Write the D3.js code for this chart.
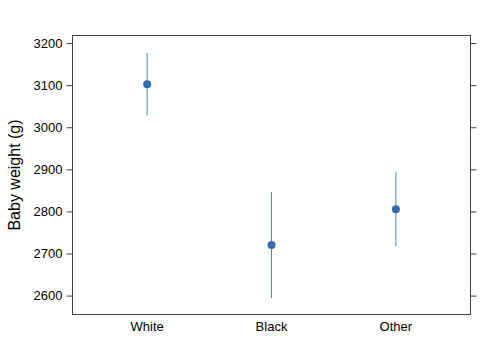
<!DOCTYPE html>
<html><head><meta charset="utf-8">
<script src="https://cdn.jsdelivr.net/npm/d3@7"></script>
<style>body{margin:0;background:#fff}svg{display:block}text{font-family:"Liberation Sans",Arial,sans-serif}</style>
</head><body><div id="chart"></div>
<script>
const categories = ["White", "Black", "Other"];
const means = [3102, 2720, 2805];
const lower = [3028, 2594, 2717];
const upper = [3177, 2846, 2894];
const yTicks = [2600, 2700, 2800, 2900, 3000, 3100, 3200];
const yLabel = "Baby weight (g)";

const W = 504, H = 360;
const m = {left: 72.5, right: 33.5, top: 35.5, bottom: 45.5};
const svg = d3.select("#chart").append("svg").attr("width", W).attr("height", H);

const x = d3.scaleLinear().domain([0.4, 3.6]).range([m.left, W - m.right]);
const y = d3.scaleLinear().domain([2555, 3218]).range([H - m.bottom, m.top]);

// frame
svg.append("rect").attr("x", m.left).attr("y", m.top)
  .attr("width", W - m.right - m.left).attr("height", H - m.bottom - m.top)
  .attr("fill", "none").attr("stroke", "#444").attr("stroke-width", 1);

// left axis
const yl = svg.append("g").attr("transform", `translate(${m.left},0)`)
  .call(d3.axisLeft(y).tickValues(yTicks).tickSize(6).tickPadding(4).tickFormat(d3.format("d")));
yl.select(".domain").remove();
yl.selectAll(".tick line").attr("stroke", "#444");
yl.selectAll(".tick text").attr("font-size", 13).attr("fill", "#000");

// right axis ticks
const yr = svg.append("g").attr("transform", `translate(${W - m.right},0)`)
  .call(d3.axisRight(y).tickValues(yTicks).tickSize(6).tickFormat(""));
yr.select(".domain").remove();
yr.selectAll(".tick line").attr("stroke", "#444");

// x labels
svg.append("g").selectAll("text").data(categories).join("text")
  .attr("x", (d, i) => x(i + 1)).attr("y", H - m.bottom + 16)
  .attr("text-anchor", "middle").attr("font-size", 13).attr("fill", "#000")
  .text(d => d);

// y label
svg.append("text").attr("transform", `translate(20,${(m.top + H - m.bottom) / 2}) rotate(-90)`)
  .attr("text-anchor", "middle").attr("font-size", 16).attr("fill", "#000").text(yLabel);

// error bars
const col = "#2e6db3";
svg.append("g").selectAll("line").data(categories).join("line")
  .attr("x1", (d, i) => x(i + 1)).attr("x2", (d, i) => x(i + 1))
  .attr("y1", (d, i) => y(lower[i])).attr("y2", (d, i) => y(upper[i]))
  .attr("stroke", "#4f86c2").attr("stroke-width", 1);

// points
svg.append("g").selectAll("circle").data(categories).join("circle")
  .attr("cx", (d, i) => x(i + 1)).attr("cy", (d, i) => y(means[i]))
  .attr("r", 4).attr("fill", col);
</script></body></html>
